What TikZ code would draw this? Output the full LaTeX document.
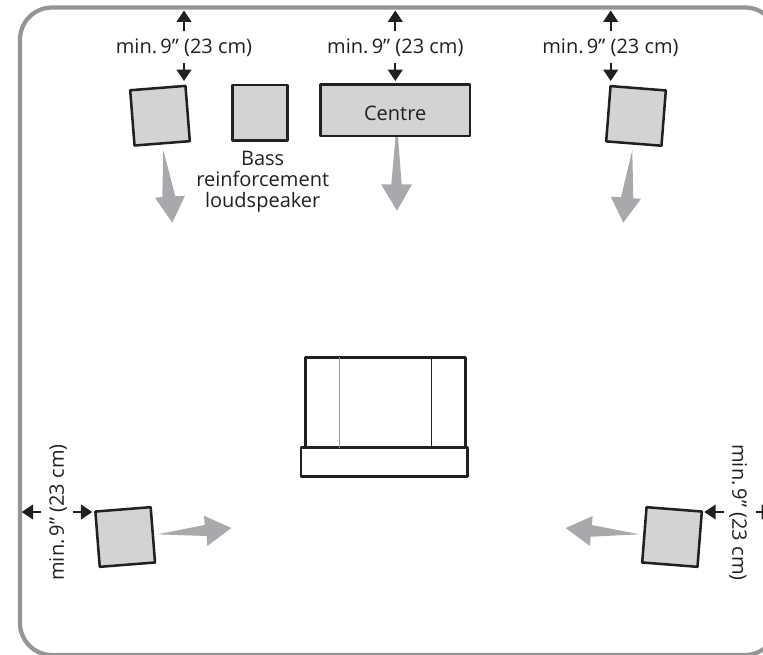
\documentclass[tikz,border=0pt]{standalone}
\usepackage{fontspec}
\setmainfont{Open Sans}
\definecolor{spkfill}{HTML}{D1D3D4}
\definecolor{beam}{HTML}{A7A9AC}
\definecolor{wall}{HTML}{939598}
\definecolor{ink}{HTML}{231F20}
\usetikzlibrary{arrows.meta}
\tikzset{
  spk/.style={draw=ink,fill=spkfill,line width=1.9pt,line join=round,inner sep=0pt,minimum width=41.6pt,minimum height=41.6pt},
  lbl/.style={text=ink,font=\fontsize{15}{15.75}\selectfont,inner sep=0pt,align=center},
  gap/.style={draw=ink,line width=1.4pt,-{Triangle[length=8.5pt,width=11pt]},shorten >=0pt},
  beamshape/.style={fill=beam,draw=none},
  seat/.style={draw=ink,line width=1.9pt,line join=round,fill=white},
}
\begin{document}
\begin{tikzpicture}[x=.75pt,y=-.75pt]
\useasboundingbox (0,0) rectangle (763,654);
\clip (0,0) rectangle (763,654);
\draw[wall,line width=3.2pt,rounded corners=24pt] (20,7.5) rectangle (777,655);
% loudspeakers
\node[spk,rotate=4.5] (fl) at (160,115.7) {};
\node[spk] (sub) at (260,112.7) {};
\node[spk,minimum width=112.4pt,minimum height=38.4pt] (ctr) at (395.2,110.2) {};
\node[lbl] (ctrt) at (395.2,113) {Centre};
\node[spk,rotate=-4.5] (fr) at (636,115.9) {};
\node[spk,rotate=4.5] (rl) at (125.2,537) {};
\node[spk,rotate=-4.5] (rr) at (672,537) {};
% labels
\node[lbl] (l1) at (184,48) {min.\,9\char34\ (23 cm)};
\node[lbl] (l2) at (395.3,48) {min.\,9\char34\ (23 cm)};
\node[lbl] (l3) at (610.5,48) {min.\,9\char34\ (23 cm)};
\node[lbl] (bass) at (262.7,181.5) {Bass\\reinforcement\\loudspeaker};
\node[lbl,rotate=90] (l4) at (58,512.5) {min.\,9\char34\ (23 cm)};
\node[lbl,rotate=-90] (l5) at (738,512.5) {min.\,9\char34\ (23 cm)};
% clearance arrow ends
\coordinate (a1t) at (184,10.5); \coordinate (a1s) at (184,30.7);
\coordinate (a1u) at (184,62.7); \coordinate (a1b) at (184,81);
\coordinate (a2t) at (395.3,10.5); \coordinate (a2s) at (395.3,30.7);
\coordinate (a2u) at (395.3,62.7); \coordinate (a2b) at (395.3,81);
\coordinate (a3t) at (610.7,10.5); \coordinate (a3s) at (610.7,30.7);
\coordinate (a3u) at (610.7,62.7); \coordinate (a3b) at (610.7,81);
\coordinate (a4l) at (21.7,512); \coordinate (a4s) at (41,512);
\coordinate (a4u) at (72.7,512); \coordinate (a4r) at (92.3,512);
\coordinate (a5r) at (724,512); \coordinate (a5l) at (704.3,512);
\coordinate (a5u) at (756,512); \coordinate (a5o) at (773,512);
\draw[gap] (a1s) -- (a1t); \draw[gap] (a1u) -- (a1b);
\draw[gap] (a2s) -- (a2t); \draw[gap] (a2u) -- (a2b);
\draw[gap] (a3s) -- (a3t); \draw[gap] (a3u) -- (a3b);
\draw[gap] (a4s) -- (a4l); \draw[gap] (a4u) -- (a4r);
\draw[gap] (a5r) -- (a5l); \draw[gap] (a5u) -- (a5o);
% sound direction arrows
\fill[beamshape] (163.3,150) -- (175.3,196.3) -- (185,195.7) -- (172.3,222.7) -- (155,197.7) -- (162.3,197) -- cycle;
\fill[beamshape] (395.5,137) -- (398,137) -- (401.7,184.3) -- (412,184.3) -- (397,210.7) -- (381,184.3) -- (391.3,184.3) -- cycle;
\fill[beamshape] (632.3,150) -- (633.3,198.3) -- (641,198.7) -- (623.3,222.7) -- (610.7,196.7) -- (621,197.3) -- cycle;
\fill[beamshape] (157.3,534.3) -- (204.7,525) -- (204,515.7) -- (231.3,528) -- (207.3,546) -- (206.7,536) -- cycle;
\fill[beamshape] (639.3,534.3) -- (591.7,525) -- (592.7,516) -- (565.7,528) -- (590,546) -- (590.7,536.7) -- cycle;
% chair
\draw[seat] (305.3,447.7) -- (305.3,357.3) -- (465.7,357.3) -- (465.7,447.7);
\draw[seat] (301,447.7) rectangle (467.7,476.7);
\draw[wall,line width=1pt] (339.7,357.3) -- (339.7,447.7);
\draw[ink,line width=.8pt] (431.3,357.3) -- (431.3,447.7);
\end{tikzpicture}
\end{document}
